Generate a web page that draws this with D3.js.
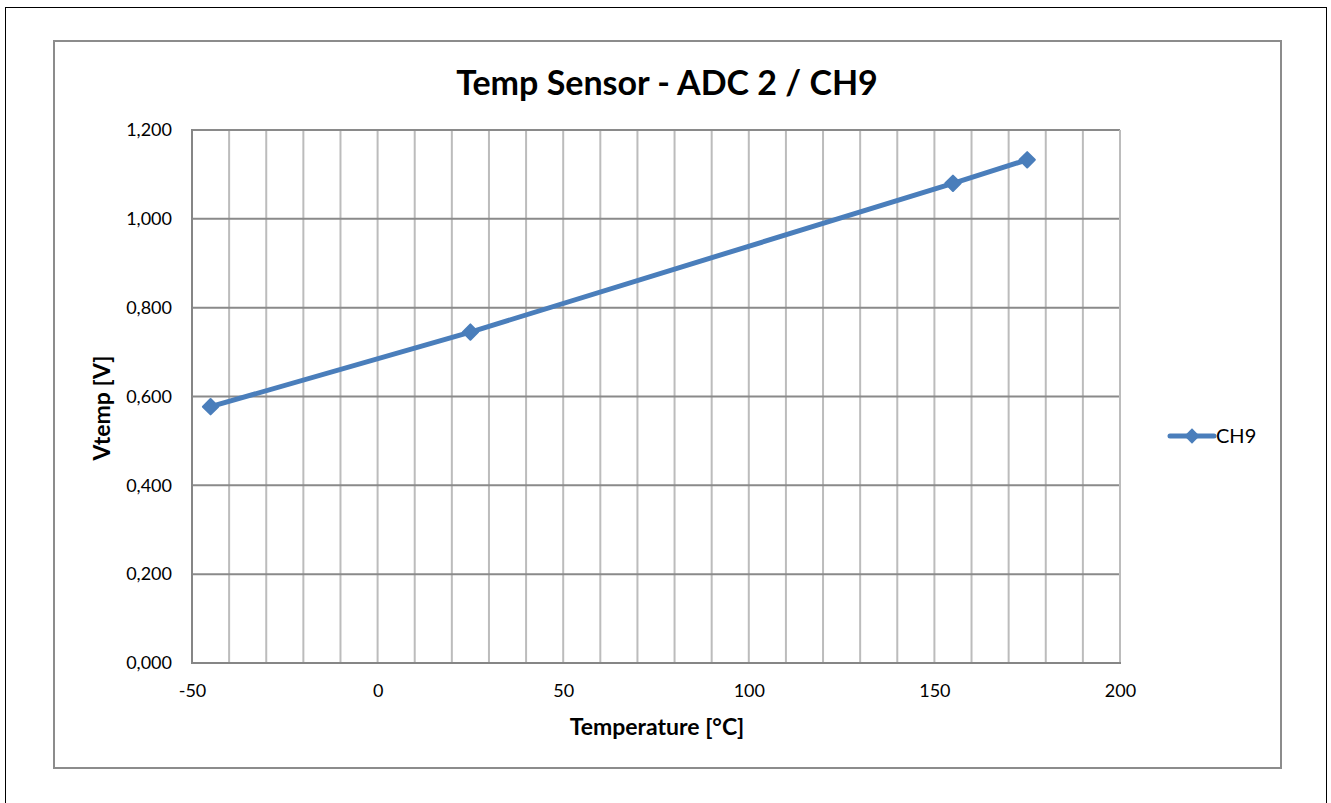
<!DOCTYPE html>
<html><head><meta charset="utf-8">
<script src="https://cdn.jsdelivr.net/npm/d3@7"></script>
<style>body{margin:0;background:#fff;}svg{display:block;font-family:Lato,"Open Sans",sans-serif;}</style>
</head><body>
<svg id="c" width="1331" height="803"></svg>
<script>
const temps = [-45, 25, 155, 175];
const vtemp = [0.577, 0.745, 1.080, 1.133];
const xTicks = [-50, 0, 50, 100, 150, 200];
const yTicks = [0, 0.2, 0.4, 0.6, 0.8, 1.0, 1.2];
const seriesName = "CH9";
const title = "Temp Sensor - ADC 2 / CH9";
const xLabel = "Temperature [°C]";
const yLabel = "Vtemp [V]";

const svg = d3.select("#c");
svg.append("rect").attr("x",5.5).attr("y",7.5).attr("width",1321).attr("height",800).attr("fill","none").attr("stroke","#000").attr("stroke-width",1);
svg.append("rect").attr("x",54).attr("y",41).attr("width",1227).attr("height",727).attr("fill","#fff").attr("stroke","#8c8c8c").attr("stroke-width",2);

const L=192,R=1120,T=130,B=663;
const x=d3.scaleLinear().domain([-50,200]).range([L,R]);
const y=d3.scaleLinear().domain([0,1.2]).range([B,T]);

const g=svg.append("g");
g.selectAll(".vg").data(d3.range(-40,200,10)).join("line")
 .attr("x1",d=>x(d)).attr("x2",d=>x(d)).attr("y1",T).attr("y2",B)
 .attr("stroke","#bcbcbc").attr("stroke-width",2);
g.selectAll(".hg").data(yTicks.slice(1)).join("line")
 .attr("x1",L).attr("x2",R).attr("y1",d=>y(d)).attr("y2",d=>y(d))
 .attr("stroke","#8a8a8a").attr("stroke-width",2);
g.append("line").attr("x1",R).attr("x2",R).attr("y1",T).attr("y2",B).attr("stroke","#bcbcbc").attr("stroke-width",2);
g.append("line").attr("x1",L).attr("x2",L).attr("y1",T-1).attr("y2",B+1).attr("stroke","#868686").attr("stroke-width",2);
g.append("line").attr("x1",L).attr("x2",R+1).attr("y1",B).attr("y2",B).attr("stroke","#868686").attr("stroke-width",2);

const fmt=v=>d3.format(".3f")(v).replace(".",",");
const yAxis=d3.axisLeft(y).tickValues(yTicks).tickFormat(fmt).tickSize(0).tickPadding(20);
const ya=svg.append("g").attr("transform",`translate(${L},0)`).call(yAxis);
const xAxis=d3.axisBottom(x).tickValues(xTicks).tickFormat(d=>String(d)).tickSize(0).tickPadding(21);
const xa=svg.append("g").attr("transform",`translate(0,${B})`).call(xAxis);
[ya,xa].forEach(a=>{a.select(".domain").remove();a.selectAll("text").attr("font-size",18).attr("fill","#000").attr("font-family","Lato,'Open Sans',sans-serif");});

const line=d3.line().x((d,i)=>x(temps[i])).y(d=>y(d));
svg.append("path").datum(vtemp).attr("d",line).attr("fill","none").attr("stroke","#4a7ebb").attr("stroke-width",5).attr("stroke-linejoin","round");
const sym=d3.symbol().type(d3.symbolDiamond2).size(150);
svg.selectAll(".pt").data(vtemp).join("path")
 .attr("transform",(d,i)=>`translate(${x(temps[i])},${y(d)})`).attr("d",sym).attr("fill","#4a7ebb").attr("stroke","#4a7ebb").attr("stroke-linejoin","round").attr("stroke-width",2);

svg.append("text").attr("x",667).attr("y",95).attr("text-anchor","middle").attr("font-size",34).attr("font-weight","bold").text(title);
svg.append("text").attr("x",657).attr("y",735).attr("text-anchor","middle").attr("font-size",23).attr("font-weight","bold").text(xLabel);
svg.append("text").attr("transform","translate(110,408) rotate(-90)").attr("text-anchor","middle").attr("font-size",23).attr("font-weight","bold").text(yLabel);

const lg=svg.append("g").attr("transform","translate(1168,436)");
lg.append("line").attr("x1",2).attr("x2",46).attr("y1",0).attr("y2",0).attr("stroke","#4a7ebb").attr("stroke-width",5).attr("stroke-linecap","round");
lg.append("path").attr("transform","translate(24,0)").attr("d",sym).attr("fill","#4a7ebb");
lg.append("text").attr("x",48).attr("y",7).attr("font-size",20).text(seriesName);
</script>
</body></html>
